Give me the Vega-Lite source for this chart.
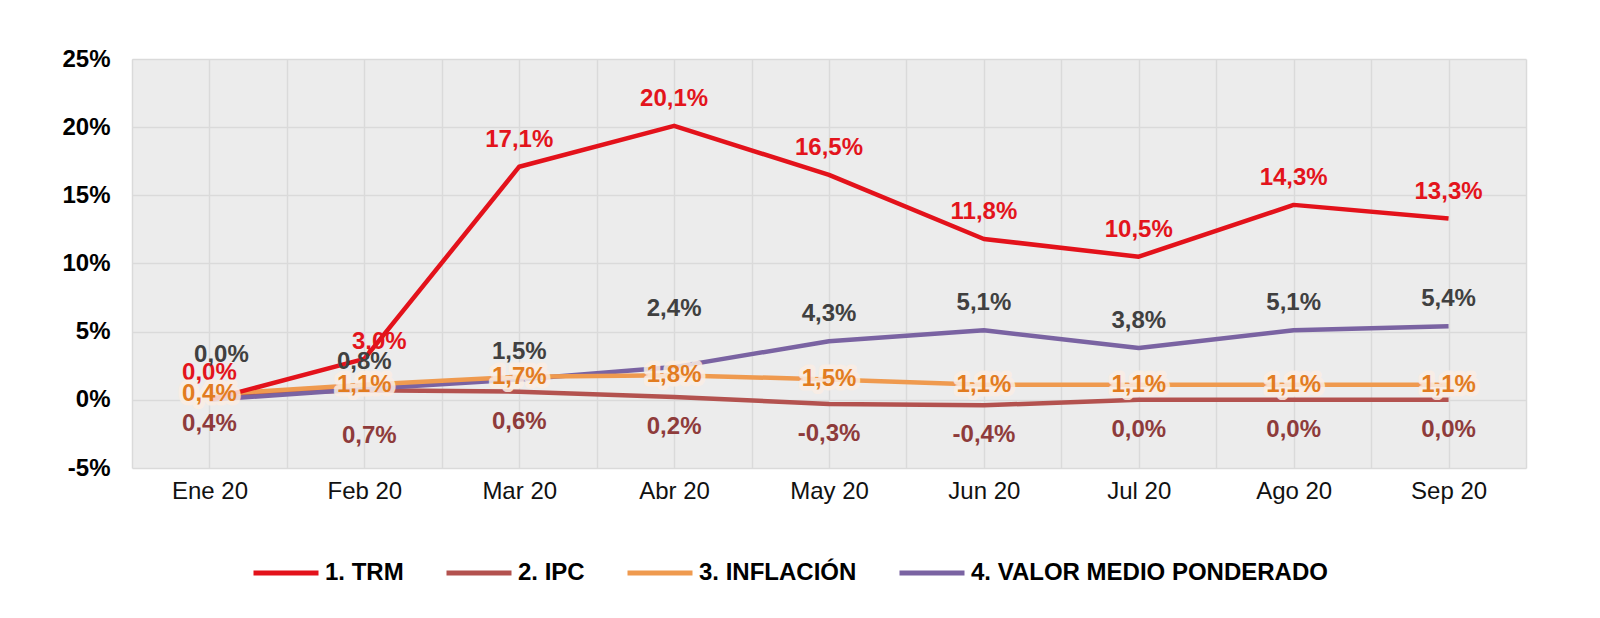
{
  "$schema": "https://vega.github.io/schema/vega-lite/v6.json",
  "width": 1394,
  "height": 409,
  "autosize": {"type": "none"},
  "padding": {"left": 132, "top": 59, "right": 74, "bottom": 150},
  "background": "white",
  "config": {
    "locale": {"number": {"decimal": ",", "thousands": ".", "grouping": [3], "currency": ["$", ""], "minus": "-"}},
    "view": {"fill": "#ececec", "stroke": null},
    "font": "Liberation Sans",
    "text": {"font": "Liberation Sans", "fontSize": 24, "fontWeight": "bold", "align": "center", "baseline": "middle"}
  },
  "data": {
    "values": [
      {"mes": "Ene 20", "i": 0, "serie": "2. IPC", "v": 0.004},
      {"mes": "Feb 20", "i": 1, "serie": "2. IPC", "v": 0.007},
      {"mes": "Mar 20", "i": 2, "serie": "2. IPC", "v": 0.006},
      {"mes": "Abr 20", "i": 3, "serie": "2. IPC", "v": 0.002},
      {"mes": "May 20", "i": 4, "serie": "2. IPC", "v": -0.003},
      {"mes": "Jun 20", "i": 5, "serie": "2. IPC", "v": -0.004},
      {"mes": "Jul 20", "i": 6, "serie": "2. IPC", "v": 0.0},
      {"mes": "Ago 20", "i": 7, "serie": "2. IPC", "v": 0.0},
      {"mes": "Sep 20", "i": 8, "serie": "2. IPC", "v": 0.0},
      {"mes": "Ene 20", "i": 0, "serie": "4. VALOR MEDIO PONDERADO", "v": 0.0},
      {"mes": "Feb 20", "i": 1, "serie": "4. VALOR MEDIO PONDERADO", "v": 0.008},
      {"mes": "Mar 20", "i": 2, "serie": "4. VALOR MEDIO PONDERADO", "v": 0.015},
      {"mes": "Abr 20", "i": 3, "serie": "4. VALOR MEDIO PONDERADO", "v": 0.024},
      {"mes": "May 20", "i": 4, "serie": "4. VALOR MEDIO PONDERADO", "v": 0.043},
      {"mes": "Jun 20", "i": 5, "serie": "4. VALOR MEDIO PONDERADO", "v": 0.051},
      {"mes": "Jul 20", "i": 6, "serie": "4. VALOR MEDIO PONDERADO", "v": 0.038},
      {"mes": "Ago 20", "i": 7, "serie": "4. VALOR MEDIO PONDERADO", "v": 0.051},
      {"mes": "Sep 20", "i": 8, "serie": "4. VALOR MEDIO PONDERADO", "v": 0.054},
      {"mes": "Ene 20", "i": 0, "serie": "3. INFLACIÓN", "v": 0.004},
      {"mes": "Feb 20", "i": 1, "serie": "3. INFLACIÓN", "v": 0.011},
      {"mes": "Mar 20", "i": 2, "serie": "3. INFLACIÓN", "v": 0.017},
      {"mes": "Abr 20", "i": 3, "serie": "3. INFLACIÓN", "v": 0.018},
      {"mes": "May 20", "i": 4, "serie": "3. INFLACIÓN", "v": 0.015},
      {"mes": "Jun 20", "i": 5, "serie": "3. INFLACIÓN", "v": 0.011},
      {"mes": "Jul 20", "i": 6, "serie": "3. INFLACIÓN", "v": 0.011},
      {"mes": "Ago 20", "i": 7, "serie": "3. INFLACIÓN", "v": 0.011},
      {"mes": "Sep 20", "i": 8, "serie": "3. INFLACIÓN", "v": 0.011},
      {"mes": "Ene 20", "i": 0, "serie": "1. TRM", "v": 0.0},
      {"mes": "Feb 20", "i": 1, "serie": "1. TRM", "v": 0.030},
      {"mes": "Mar 20", "i": 2, "serie": "1. TRM", "v": 0.171},
      {"mes": "Abr 20", "i": 3, "serie": "1. TRM", "v": 0.201},
      {"mes": "May 20", "i": 4, "serie": "1. TRM", "v": 0.165},
      {"mes": "Jun 20", "i": 5, "serie": "1. TRM", "v": 0.118},
      {"mes": "Jul 20", "i": 6, "serie": "1. TRM", "v": 0.105},
      {"mes": "Ago 20", "i": 7, "serie": "1. TRM", "v": 0.143},
      {"mes": "Sep 20", "i": 8, "serie": "1. TRM", "v": 0.133}
    ]
  },
  "encoding": {
    "x": {
      "field": "i",
      "type": "quantitative",
      "scale": {"domain": [-0.5, 8.5], "nice": false, "zero": false},
      "axis": {
        "title": null,
        "values": [-0.5, 0, 0.5, 1, 1.5, 2, 2.5, 3, 3.5, 4, 4.5, 5, 5.5, 6, 6.5, 7, 7.5, 8, 8.5],
        "labelExpr": "datum.value % 1 == 0 ? ['Ene 20','Feb 20','Mar 20','Abr 20','May 20','Jun 20','Jul 20','Ago 20','Sep 20'][datum.value] : ''",
        "labelFontSize": 24,
        "labelColor": "#111111",
        "labelPadding": 11,
        "labelOverlap": false,
        "labelFlush": false,
        "ticks": false,
        "domain": false,
        "grid": true,
        "gridColor": "#dadada",
        "gridWidth": 1.5
      }
    },
    "y": {
      "field": "v",
      "type": "quantitative",
      "scale": {"domain": [-0.05, 0.25], "nice": false, "zero": false},
      "axis": {
        "title": null,
        "values": [-0.05, 0, 0.05, 0.1, 0.15, 0.2, 0.25],
        "format": ".0%",
        "labelFontSize": 24,
        "labelFontWeight": "bold",
        "labelColor": "#000000",
        "labelPadding": 22,
        "ticks": false,
        "domain": false,
        "grid": true,
        "gridColor": "#dadada",
        "gridWidth": 1.5
      }
    }
  },
  "layer": [
    {
      "mark": {"type": "line", "strokeWidth": 4.5, "strokeJoin": "round"},
      "encoding": {
        "color": {
          "field": "serie",
          "type": "nominal",
          "scale": {
            "domain": ["1. TRM", "2. IPC", "3. INFLACIÓN", "4. VALOR MEDIO PONDERADO"],
            "range": ["#e3121b", "#b3524f", "#ef9a4f", "#7a63a2"]
          },
          "legend": {
            "orient": "none",
            "legendX": 119,
            "legendY": 479,
            "direction": "horizontal",
            "title": null,
            "symbolType": "stroke",
            "symbolSize": 4225,
            "symbolStrokeWidth": 5,
            "labelFontSize": 24,
            "labelFontWeight": "bold",
            "labelColor": "#000000",
            "labelOffset": 4,
            "labelLimit": 600,
            "columnPadding": 32
          }
        }
      }
    },
    {
      "transform": [{"filter": "datum.serie == '1. TRM' && datum.mes != 'Feb 20'"}],
      "mark": {"type": "text", "dy": -27, "color": "#e3141c"},
      "encoding": {"text": {"field": "v", "format": ".1%"}}
    },
    {
      "transform": [{"filter": "datum.serie == '1. TRM' && datum.mes == 'Feb 20'"}],
      "mark": {"type": "text", "dy": -17, "dx": 15, "color": "#e3141c"},
      "encoding": {"text": {"field": "v", "format": ".1%"}}
    },
    {
      "transform": [{"filter": "datum.serie == '2. IPC' && datum.mes != 'Feb 20'"}],
      "mark": {"type": "text", "dy": 30, "color": "#8e3b3b"},
      "encoding": {"text": {"field": "v", "format": ".1%"}}
    },
    {
      "transform": [{"filter": "datum.serie == '2. IPC' && datum.mes == 'Feb 20'"}],
      "mark": {"type": "text", "dy": 46, "dx": 5, "color": "#8e3b3b"},
      "encoding": {"text": {"field": "v", "format": ".1%"}}
    },
    {
      "transform": [{"filter": "datum.serie == '4. VALOR MEDIO PONDERADO' && datum.mes != 'Ene 20' && datum.mes != 'Abr 20'"}],
      "mark": {"type": "text", "dy": -27, "color": "#404040"},
      "encoding": {"text": {"field": "v", "format": ".1%"}}
    },
    {
      "transform": [{"filter": "datum.serie == '4. VALOR MEDIO PONDERADO' && datum.mes == 'Ene 20'"}],
      "mark": {"type": "text", "dy": -45, "dx": 12, "color": "#404040"},
      "encoding": {"text": {"field": "v", "format": ".1%"}}
    },
    {
      "transform": [{"filter": "datum.serie == '4. VALOR MEDIO PONDERADO' && datum.mes == 'Abr 20'"}],
      "mark": {"type": "text", "dy": -58, "color": "#404040"},
      "encoding": {"text": {"field": "v", "format": ".1%"}}
    },
    {
      "transform": [{"filter": "datum.serie == '3. INFLACIÓN'"}],
      "mark": {"type": "text", "color": "#fbeee4", "stroke": "#fbeee4", "strokeWidth": 9, "strokeJoin": "round", "opacity": 0.85},
      "encoding": {"text": {"field": "v", "format": ".1%"}}
    },
    {
      "transform": [{"filter": "datum.serie == '3. INFLACIÓN'"}],
      "mark": {"type": "text", "color": "#e27c1f"},
      "encoding": {"text": {"field": "v", "format": ".1%"}}
    }
  ]
}
